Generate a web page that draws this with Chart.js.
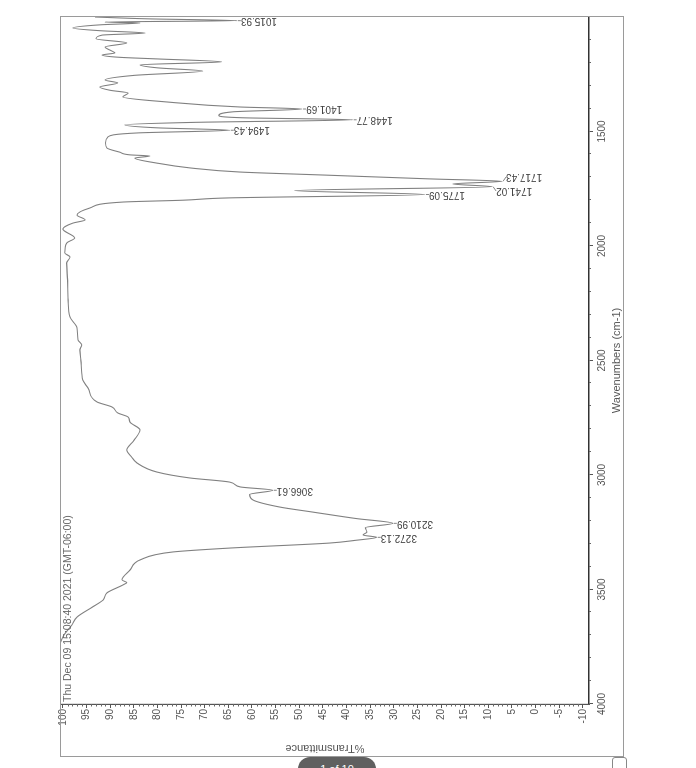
<!DOCTYPE html>
<html>
<head>
<meta charset="utf-8">
<script src="https://cdn.jsdelivr.net/npm/chart.js@4.4.0/dist/chart.umd.min.js"></script>
<style>
html, body { margin: 0; padding: 0; background: #fff; overflow: hidden; width: 696px; height: 768px; }
/* the scanned page is turned a quarter turn, so the chart is drawn upright and rotated */
#wrap { position: absolute; left: -36px; top: 36px; width: 768px; height: 696px; transform: rotate(-90deg); }
#pill { position: absolute; left: 298px; top: 757px; width: 78px; height: 24px; border-radius: 12px;
        background: #606060; color: #fff; font: 11px 'Liberation Sans', Arial, sans-serif;
        text-align: center; line-height: 24px; }
#icon { position: absolute; left: 612px; top: 757px; width: 13px; height: 14px; border: 1px solid #888; border-radius: 3px; }
</style>
</head>
<body>
<div id="wrap"><canvas id="irChartCanvas" width="768" height="696"></canvas></div>
<div id="pill">1 of 10</div>
<div id="icon"></div>
<script>
const wavenumbers = [
    1000, 1008, 1015.93, 1022, 1026, 1034, 1048, 1060, 1070, 1079,
    1095, 1113, 1131, 1145, 1157, 1166, 1176, 1183, 1196, 1209,
    1222, 1236, 1255, 1275, 1288, 1306, 1320, 1332, 1349, 1371,
    1393, 1401.69, 1414, 1430, 1440, 1448.77, 1460, 1471, 1484, 1494.43,
    1506, 1524, 1550, 1572, 1590, 1602, 1607, 1616, 1638, 1659,
    1677, 1690, 1707, 1717.43, 1729, 1741.02, 1758, 1775.09, 1790, 1800,
    1808, 1834, 1865, 1886, 1900, 1926, 1965, 1987, 2030, 2048,
    2074, 2150, 2236, 2310, 2358, 2410, 2432, 2454, 2500, 2555,
    2585, 2620, 2681, 2703, 2729, 2747, 2769, 2803, 2850, 2891,
    2920, 2948, 2987, 3013, 3031, 3052, 3066.61, 3085, 3109, 3140,
    3162, 3190, 3210.99, 3230, 3249, 3262, 3272.13, 3285, 3297, 3319,
    3336, 3371, 3415, 3458, 3470, 3480, 3515, 3546, 3576, 3620,
    3655, 3700, 3750, 3850, 4000
];
const transmittance = [
    93.2, 82, 63.2, 91.1, 83.7, 92, 97.9, 92, 82.6, 91.7,
    93, 86.5, 91.1, 90, 89.0, 91.7, 88, 80.1, 66.4, 83.7,
    80, 70.4, 85, 91.1, 88.4, 92.2, 90, 86.2, 87.3, 78.0,
    62.5, 49.4, 64, 67, 62, 38.7, 72, 86.9, 80, 64.7,
    84, 90.5, 91, 90.7, 88, 85.8, 81.6, 84.8, 80.1, 73.1,
    62.5, 45.0, 22.3, 7.1, 17.5, 9.2, 51, 23.4, 65, 74.6,
    87.3, 94.3, 97.0, 95.3, 97.9, 100, 97.5, 99.2, 99.6, 98.5,
    99.2, 99.0, 98.9, 98.5, 97.0, 96.8, 96.0, 96.4, 96.2, 96.0,
    95.8, 94.7, 92.8, 89.6, 88.4, 86.2, 85.8, 83.7, 85, 86.5,
    85.5, 84.3, 80.1, 73.1, 64.7, 62.5, 55.6, 60.5, 59.8, 54.1,
    47.1, 38, 30.2, 36, 35.7, 36.5, 33.6, 38, 43.5, 64.7,
    76.7, 83.7, 85.8, 87.5, 86.5, 87.3, 90.7, 91.5, 93.7, 97.0,
    98.1, 99.8, 100.8, 101.5, 102
];

const peakWavenumbers = [1015.93, 1401.69, 1448.77, 1494.43, 1717.43, 1741.02, 1775.09, 3066.61, 3210.99, 3272.13];
const peakTransmittance = [63.2, 49.4, 38.7, 64.7, 7.1, 9.2, 23.4, 55.6, 30.2, 33.6];

const xTickValues = [1500, 2000, 2500, 3000, 3500, 4000];
const yTickValues = [-10, -5, 0, 5, 10, 15, 20, 25, 30, 35, 40, 45, 50, 55, 60, 65, 70, 75, 80, 85, 90, 95, 100];

const stampText = 'Thu Dec 09 15:08:40 2021 (GMT-06:00)';
const fontFamily = "'Liberation Sans', Arial, sans-serif";

const irChartCanvas = document.getElementById('irChartCanvas');

const pagePlugin = {
    id: 'page',
    afterDraw(chart) {
        const ctx = chart.ctx;
        const area = chart.chartArea;
        const xScale = chart.scales.x;
        const yScale = chart.scales.y;

        ctx.save();
        // outer frame of the printout
        ctx.strokeStyle = '#9a9a9a';
        ctx.lineWidth = 1;
        ctx.strokeRect(11.5, 60.5, area.right - 11, 563);

        // minor ticks
        ctx.strokeStyle = '#666';
        ctx.beginPath();
        for (let t = -10; t <= 100; t++) {
            if (t % 5 === 0) continue;
            const py = Math.round(yScale.getPixelForValue(t)) + 0.5;
            ctx.moveTo(area.left, py);
            ctx.lineTo(area.left - 2.5, py);
        }
        for (let w = 1100; w < 4000; w += 100) {
            if (w % 500 === 0) continue;
            const px = Math.round(xScale.getPixelForValue(w)) + 0.5;
            ctx.moveTo(px, area.bottom);
            ctx.lineTo(px, area.bottom + 2);
        }
        ctx.stroke();

        // date stamp
        ctx.fillStyle = '#666';
        ctx.font = '10.5px ' + fontFamily;
        ctx.textAlign = 'left';
        ctx.textBaseline = 'middle';
        ctx.fillText(stampText, area.left + 2, area.top + 7);
        ctx.restore();
    }
};

const peakLabelPlugin = {
    id: 'peakLabels',
    afterDatasetsDraw(chart) {
        const ctx = chart.ctx;
        const xScale = chart.scales.x;
        const yScale = chart.scales.y;
        ctx.save();
        ctx.font = '10px ' + fontFamily;

        const labels = peakWavenumbers.map((w, i) => {
            const text = w.toFixed(2);
            const px = xScale.getPixelForValue(w);
            const py = yScale.getPixelForValue(peakTransmittance[i]);
            const len = ctx.measureText(text).width;
            return { text, px, py, lx: px, top: py + 4, bottom: py + 4 + len };
        });

        // push apart labels that would sit on top of each other
        const gap = 14;
        for (let i = 0; i < labels.length; i++) {
            for (let j = i + 1; j < labels.length; j++) {
                const a = labels[i], b = labels[j];
                const overlap = a.top < b.bottom && b.top < a.bottom;
                const d = b.lx - a.lx;
                if (overlap && Math.abs(d) < gap) {
                    const shift = (gap - Math.abs(d)) / 2 * (d >= 0 ? 1 : -1);
                    a.lx -= shift;
                    b.lx += shift;
                }
            }
        }

        ctx.fillStyle = '#444';
        ctx.strokeStyle = '#666';
        ctx.lineWidth = 0.8;
        labels.forEach(l => {
            ctx.beginPath();
            ctx.moveTo(l.px, l.py + 1);
            ctx.lineTo(l.lx, l.py + 4);
            ctx.stroke();
            ctx.save();
            ctx.translate(l.lx, l.py);
            ctx.rotate(-Math.PI / 2);
            ctx.textAlign = 'right';
            ctx.textBaseline = 'middle';
            ctx.fillText(l.text, -4, 0);
            ctx.restore();
        });
        ctx.restore();
    }
};

const irChart = new Chart(irChartCanvas, {
    type: 'line',
    data: {
        datasets: [{
            label: '%Transmittance',
            data: wavenumbers.map((w, i) => ({ x: w, y: transmittance[i] })),
            borderColor: '#808080',
            borderWidth: 1.1,
            pointRadius: 0,
            cubicInterpolationMode: 'monotone',
            fill: false
        }]
    },
    options: {
        responsive: false,
        animation: false,
        layout: {
            padding: { top: 61, right: 17, left: 0, bottom: 0 }
        },
        plugins: {
            legend: { display: false },
            tooltip: { enabled: false }
        },
        scales: {
            x: {
                type: 'linear',
                reverse: true,
                min: 1000,
                max: 4000,
                afterBuildTicks(scale) {
                    scale.ticks = xTickValues.map(v => ({ value: v }));
                },
                afterFit(scale) {
                    scale.height = 107;
                },
                ticks: {
                    color: '#555',
                    maxRotation: 0,
                    padding: 3,
                    font: { family: fontFamily, size: 10 },
                    callback: v => String(v)
                },
                grid: {
                    drawOnChartArea: false,
                    tickLength: 4,
                    tickColor: '#555'
                },
                border: { color: '#333', width: 1.6 },
                title: {
                    display: true,
                    text: 'Wavenumbers (cm-1)',
                    color: '#555',
                    font: { family: fontFamily, size: 11 },
                    padding: { top: 0, bottom: 72 }
                }
            },
            y: {
                min: -11.3,
                max: 100.4,
                afterBuildTicks(scale) {
                    scale.ticks = yTickValues.map(v => ({ value: v }));
                },
                afterFit(scale) {
                    scale.width = 64;
                },
                ticks: {
                    color: '#555',
                    padding: 1,
                    font: { family: fontFamily, size: 10 },
                    callback: v => String(v)
                },
                grid: {
                    drawOnChartArea: false,
                    tickLength: 4,
                    tickColor: '#555'
                },
                border: { color: '#555', width: 1.2 },
                title: {
                    display: true,
                    text: '%Transmittance',
                    color: '#555',
                    font: { family: fontFamily, size: 11 },
                    padding: { top: 13, bottom: 0 }
                }
            }
        }
    },
    plugins: [pagePlugin, peakLabelPlugin]
});
</script>
</body>
</html>
